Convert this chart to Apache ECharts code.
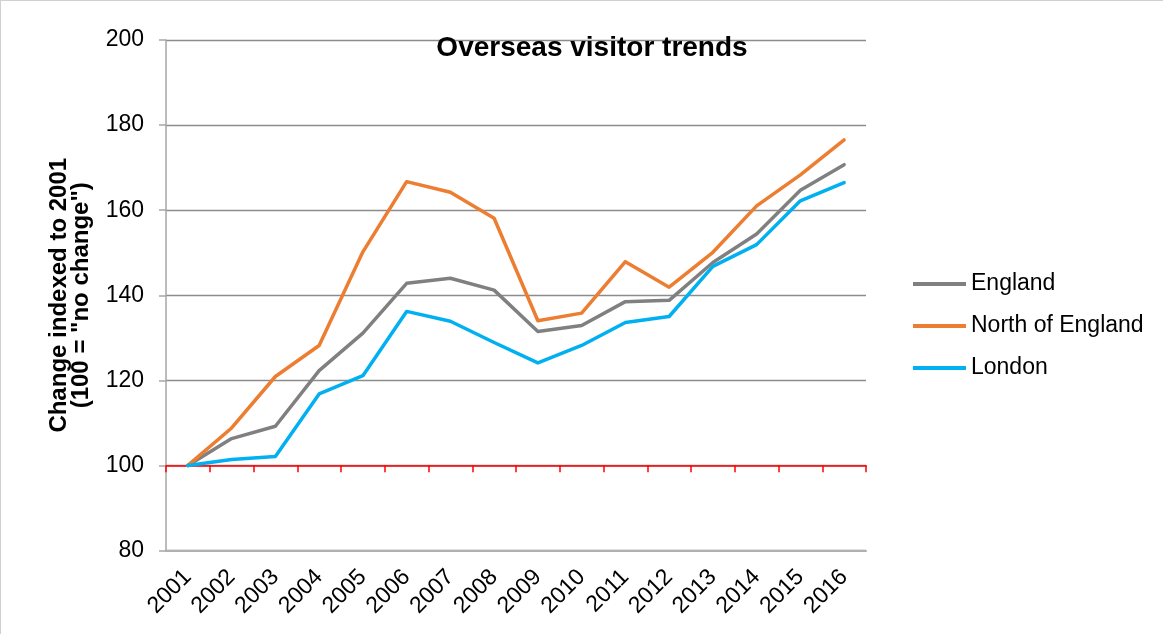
<!DOCTYPE html>
<html>
<head>
<meta charset="utf-8">
<title>Overseas visitor trends</title>
<script src="https://cdn.jsdelivr.net/npm/echarts@6/dist/echarts.min.js"></script>
<style>
  html, body { margin: 0; padding: 0; background: #ffffff; }
  #chart { width: 1163px; height: 634px; box-sizing: border-box; border-left: 1px solid #d0d0d0; border-top: 1px solid #d0d0d0; }
</style>
</head>
<body>
<div id="chart"></div>
<script>
// Years on the category axis
const years = ['2001', '2002', '2003', '2004', '2005', '2006', '2007', '2008',
               '2009', '2010', '2011', '2012', '2013', '2014', '2015', '2016'];

// Overseas visits, indexed so that 2001 = 100
const england      = [100, 106.3, 109.2, 122.3, 131.1, 142.8, 144.0, 141.2, 131.5, 132.9, 138.5, 138.8, 147.7, 154.4, 164.7, 170.7];
const northEngland = [100, 108.8, 120.9, 128.2, 150.2, 166.7, 164.2, 158.1, 134.0, 135.8, 147.9, 141.9, 150.1, 161.0, 168.3, 176.5];
const london       = [100, 101.4, 102.1, 116.8, 121.1, 136.2, 133.9, 128.9, 124.1, 128.2, 133.6, 135.0, 146.8, 151.9, 162.2, 166.5];

// Value axis ticks
const yTicks = [80, 100, 120, 140, 160, 180, 200];
const baseline = 100;

const FONT = 'Liberation Sans, Arial, sans-serif';

const chart = echarts.init(document.getElementById('chart'), null, { renderer: 'canvas' });

const gridTop = 39, gridBottom = 83.5;
const gridHeight = 634 - gridTop - gridBottom;
const yMin = yTicks[0], yMax = yTicks[yTicks.length - 1];
// distance of the baseline above the bottom of the plot
const baselineOffset = gridHeight * (baseline - yMin) / (yMax - yMin);

function lineSeries(name, data, color) {
  return {
    name: name,
    type: 'line',
    data: data,
    xAxisIndex: 0,
    showSymbol: false,
    symbol: 'none',
    lineStyle: { color: color, width: 3.5, cap: 'round', join: 'round' },
    itemStyle: { color: color },
    emphasis: { disabled: true },
    animation: false
  };
}

chart.setOption({
  animation: false,
  title: {
    text: 'Overseas visitor trends',
    left: 591,
    top: 33,
    textAlign: 'center',
    padding: 0,
    textStyle: { fontFamily: FONT, fontSize: 28, fontWeight: 'bold', color: '#000000' }
  },
  legend: {
    orient: 'vertical',
    left: 907,
    top: 266,
    itemWidth: 53,
    itemHeight: 4,
    itemGap: 18,
    icon: 'rect',
    textStyle: { fontFamily: FONT, fontSize: 23, color: '#000000', lineHeight: 24 },
    data: ['England', 'North of England', 'London']
  },
  grid: { left: 165, right: 297, top: gridTop, bottom: gridBottom, containLabel: false },
  xAxis: [
    {
      type: 'category',
      data: years,
      boundaryGap: true,
      position: 'bottom',
      axisLine: { show: true, lineStyle: { color: '#b0b0b0', width: 2 } },
      axisTick: { show: false },
      axisLabel: {
        rotate: 45,
        margin: 23,
        interval: 0,
        fontFamily: FONT,
        fontSize: 23,
        color: '#000000'
      },
      splitLine: { show: false }
    },
    {
      // axis crossing the value axis at the 2001 baseline
      type: 'category',
      data: years,
      boundaryGap: true,
      position: 'bottom',
      offset: -baselineOffset,
      axisLine: { show: true, lineStyle: { color: '#ff0000', width: 1.5 } },
      axisTick: { show: true, inside: false, length: 7, interval: 0, lineStyle: { color: '#ff0000', width: 1.5 } },
      axisLabel: { show: false },
      splitLine: { show: false }
    }
  ],
  yAxis: {
    type: 'value',
    min: yMin,
    max: yMax,
    interval: 20,
    name: 'Change indexed to 2001\n(100 = "no change")',
    nameLocation: 'middle',
    nameGap: 74,
    nameRotate: 90,
    nameTextStyle: { fontFamily: FONT, fontSize: 24, fontWeight: 'bold', color: '#000000', lineHeight: 22 },
    axisLine: { show: true, lineStyle: { color: '#a6a6a6', width: 1.5 } },
    axisTick: { show: true, inside: false, length: 7, lineStyle: { color: '#a6a6a6', width: 1.5 } },
    axisLabel: { margin: 22, fontFamily: FONT, fontSize: 23, color: '#000000' },
    splitLine: { show: true, lineStyle: { color: '#8c8c8c', width: 1.3 } }
  },
  series: [
    lineSeries('England', england, '#808080'),
    lineSeries('North of England', northEngland, '#ed7d31'),
    lineSeries('London', london, '#00b0f0')
  ]
});
</script>
</body>
</html>
